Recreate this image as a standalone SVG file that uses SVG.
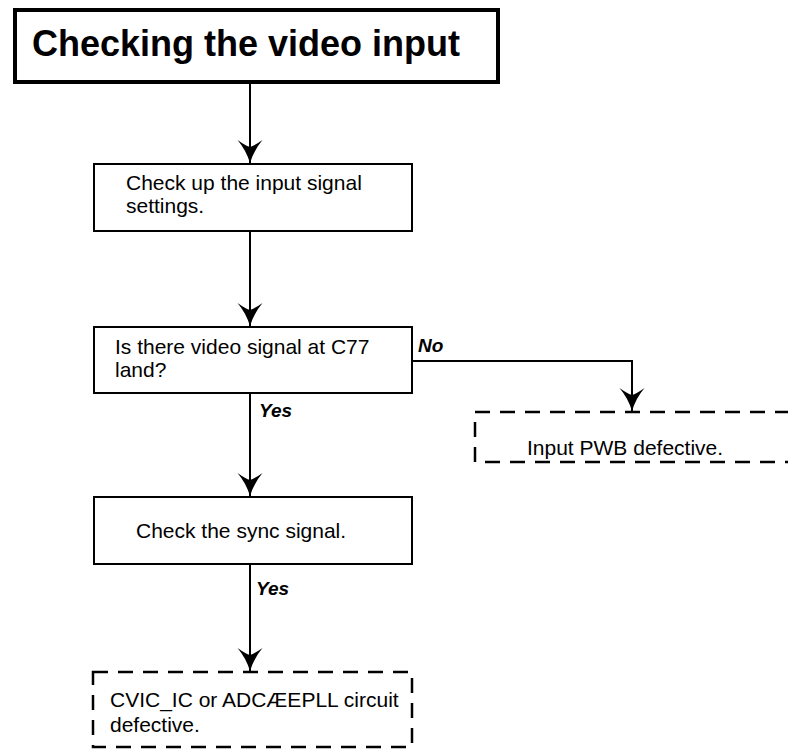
<svg xmlns="http://www.w3.org/2000/svg" width="788" height="749" viewBox="0 0 788 749">
<defs>
<style>
.box{fill:#fff;stroke:#000;stroke-width:2}
.dash{fill:#fff;stroke:#000;stroke-width:2.5;stroke-dasharray:15 10}
.t{font-family:"Liberation Sans",Arial,sans-serif;font-size:21px;fill:#000}
.lbl{font-family:"Liberation Sans",Arial,sans-serif;font-size:19px;font-weight:bold;font-style:italic;fill:#000}
.ln{fill:none;stroke:#000;stroke-width:2}
</style>
<marker id="ah" viewBox="-24 -13 25 26" refX="0" refY="0" markerWidth="25" markerHeight="26" markerUnits="userSpaceOnUse" orient="auto">
<path d="M0,0 Q-13,-4 -23,-12.5 Q-17,-4 -16,0 Q-17,4 -23,12.5 Q-13,4 0,0 Z" fill="#000"/>
</marker>
</defs>
<g id="connectors">
<path class="ln" d="M250,84 V163" marker-end="url(#ah)"/>
<path class="ln" d="M250,231 V326" marker-end="url(#ah)"/>
<path class="ln" d="M412,361 H632 V411" marker-end="url(#ah)"/>
<path class="ln" d="M250,393 V496" marker-end="url(#ah)"/>
<path class="ln" d="M250,564 V671" marker-end="url(#ah)"/>
<text class="lbl" x="418" y="352">No</text>
<text class="lbl" x="259" y="417">Yes</text>
<text class="lbl" x="256" y="595">Yes</text>
</g>
<g id="title">
<rect x="15" y="10" width="483" height="72" fill="#fff" stroke="#000" stroke-width="4"/>
<text x="32" y="56" font-family="Liberation Sans,Arial,sans-serif" font-size="36" font-weight="bold">Checking the video input</text>
</g>
<g id="check-input">
<rect class="box" x="94" y="164" width="318" height="67"/>
<text class="t" x="126" y="190">Check up the input signal</text>
<text class="t" x="126" y="213">settings.</text>
</g>
<g id="video-signal">
<rect class="box" x="94" y="327" width="318" height="66"/>
<text class="t" x="115" y="354">Is there video signal at C77</text>
<text class="t" x="115" y="377">land?</text>
</g>
<g id="input-pwb">
<rect class="dash" x="475" y="412" width="400" height="50"/>
<text class="t" x="527" y="455">Input PWB defective.</text>
</g>
<g id="sync">
<rect class="box" x="94" y="497" width="318" height="67"/>
<text class="t" x="136" y="538">Check the sync signal.</text>
</g>
<g id="cvic">
<rect class="dash" x="93" y="672" width="319" height="75"/>
<text class="t" x="110" y="707">CVIC_IC or ADCÆEPLL circuit</text>
<text class="t" x="110" y="732">defective.</text>
</g>
</svg>
